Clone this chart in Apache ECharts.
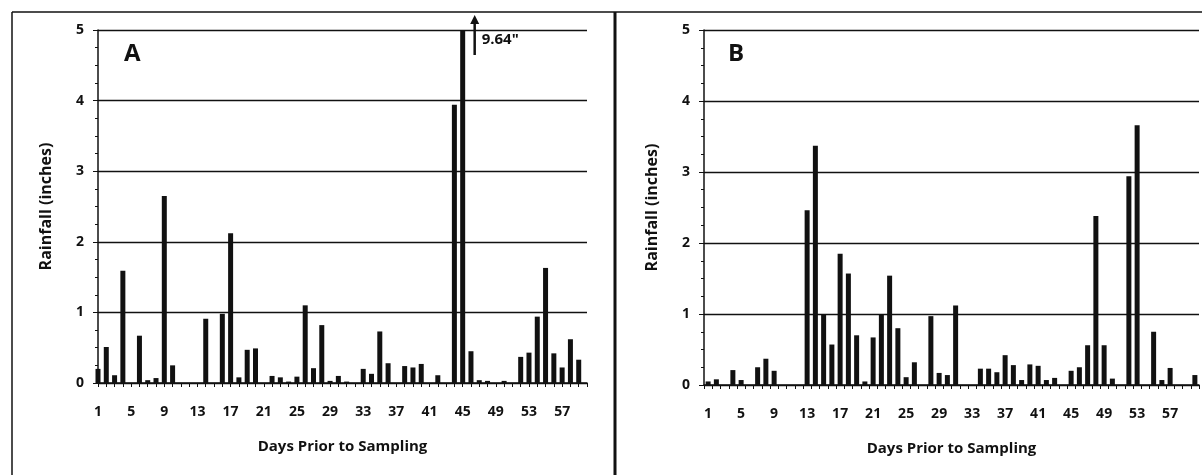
<!DOCTYPE html>
<html>
<head>
<meta charset="utf-8">
<script src="https://cdn.jsdelivr.net/npm/echarts@6/dist/echarts.min.js"></script>
<style>
  html, body { margin: 0; padding: 0; background: #fff; }
  #rainChart { width: 1202px; height: 475px; }
</style>
</head>
<body>
<div id="rainChart"></div>
<script>
// days prior to sampling
const days = [];
for (let d = 1; d <= 60; d++) days.push(String(d));

// panel A rainfall (inches), day 45 goes off the scale (9.64")
const rainA = [
  0.20, 0.51, 0.11, 1.59, 0, 0.67, 0.04, 0.07, 2.65, 0.25,
  0, 0, 0, 0.91, 0, 0.98, 2.12, 0.08, 0.47, 0.49,
  0, 0.10, 0.08, 0.02, 0.09, 1.10, 0.21, 0.82, 0.03, 0.10,
  0.02, 0, 0.20, 0.13, 0.73, 0.28, 0, 0.24, 0.22, 0.27,
  0, 0.11, 0, 3.94, 9.64, 0.45, 0.04, 0.03, 0, 0.03,
  0, 0.37, 0.43, 0.94, 1.63, 0.42, 0.22, 0.62, 0.33, 0
];

// panel B rainfall (inches)
const rainB = [
  0.05, 0.08, 0, 0.21, 0.07, 0, 0.25, 0.37, 0.20, 0,
  0, 0, 2.46, 3.37, 1.00, 0.57, 1.85, 1.57, 0.70, 0.05,
  0.67, 1.00, 1.54, 0.80, 0.11, 0.32, 0, 0.97, 0.17, 0.14,
  1.12, 0, 0, 0.23, 0.23, 0.18, 0.42, 0.28, 0.07, 0.29,
  0.27, 0.07, 0.10, 0, 0.20, 0.25, 0.56, 2.38, 0.56, 0.09,
  0, 2.94, 3.66, 0, 0.75, 0.07, 0.24, 0, 0, 0.14
];

const yTicks = [0, 1, 2, 3, 4, 5];
const offScaleLabel = '9.64"';

const font = '"Open Sans", Lato, sans-serif';
const ink = '#111';

function yAxisFor(idx) {
  return {
    type: 'value',
    gridIndex: idx,
    min: yTicks[0],
    max: yTicks[yTicks.length - 1],
    interval: 1,
    name: 'Rainfall (inches)',
    nameLocation: 'middle',
    nameGap: 44,
    nameTextStyle: { color: ink, fontFamily: font, fontWeight: 'bold', fontSize: 16 },
    axisLine: { show: true, lineStyle: { color: ink, width: 1.5 } },
    axisTick: { show: true, length: 5, lineStyle: { color: ink } },
    minorTick: { show: true, splitNumber: 4, length: 3, lineStyle: { color: ink } },
    axisLabel: { color: ink, fontFamily: font, fontWeight: 'bold', fontSize: 14, margin: 14 },
    splitLine: { show: true, lineStyle: { color: ink, width: 1.4 } }
  };
}

function xAxisFor(idx, gap) {
  return {
    type: 'category',
    gridIndex: idx,
    data: days,
    boundaryGap: gap,
    name: 'Days Prior to Sampling',
    nameLocation: 'middle',
    nameGap: 56,
    nameTextStyle: { color: ink, fontFamily: font, fontWeight: 'bold', fontSize: 15 },
    axisLine: { show: true, lineStyle: { color: ink, width: 1.5 } },
    axisTick: { show: true, interval: 0, length: 4, lineStyle: { color: ink } },
    axisLabel: { interval: 3, color: ink, fontFamily: font, fontWeight: 'bold', fontSize: 14, margin: 22 },
    splitLine: { show: false }
  };
}

const chart = echarts.init(document.getElementById('rainChart'), null, { renderer: 'canvas' });

chart.setOption({
  animation: false,
  backgroundColor: '#fff',
  grid: [
    { left: 98, top: 30, width: 489, height: 353 },
    { left: 704, top: 30, width: 495, height: 355 }
  ],
  xAxis: [xAxisFor(0, false), xAxisFor(1, true)],
  yAxis: [yAxisFor(0), yAxisFor(1)],
  series: [
    { type: 'bar', xAxisIndex: 0, yAxisIndex: 0, data: rainA, barWidth: 5, itemStyle: { color: ink } },
    { type: 'bar', xAxisIndex: 1, yAxisIndex: 1, data: rainB, barWidth: 5, itemStyle: { color: ink } }
  ],
  graphic: [
    // panel frames
    { type: 'line', shape: { x1: 12, y1: 12, x2: 1202, y2: 12 }, style: { stroke: ink, lineWidth: 1.5 } },
    { type: 'line', shape: { x1: 12, y1: 12, x2: 12, y2: 475 }, style: { stroke: ink, lineWidth: 1.5 } },
    { type: 'line', shape: { x1: 615, y1: 12, x2: 615, y2: 475 }, style: { stroke: ink, lineWidth: 3 } },
    // panel letters
    { type: 'text', x: 124, y: 42, style: { text: 'A', fill: ink, font: 'bold 24px ' + font } },
    { type: 'text', x: 728, y: 42, style: { text: 'B', fill: ink, font: 'bold 24px ' + font } }
  ]
});

// arrow + label for the off-scale bar, anchored to its category
const peakIdx = rainA.indexOf(Math.max.apply(null, rainA));
const px = chart.convertToPixel({ xAxisIndex: 0 }, days[peakIdx]);
chart.setOption({
  graphic: [
    { type: 'line', id: 'arrowShaft', shape: { x1: px + 12, y1: 55, x2: px + 12, y2: 22 }, style: { stroke: ink, lineWidth: 2.5 } },
    { type: 'polygon', id: 'arrowHead', shape: { points: [[px + 12, 15], [px + 7.5, 24], [px + 16.5, 24]] }, style: { fill: ink } },
    { type: 'text', id: 'arrowText', x: px + 19, y: 32, style: { text: offScaleLabel, fill: ink, font: 'bold 15px ' + font } }
  ]
});
</script>
</body>
</html>
